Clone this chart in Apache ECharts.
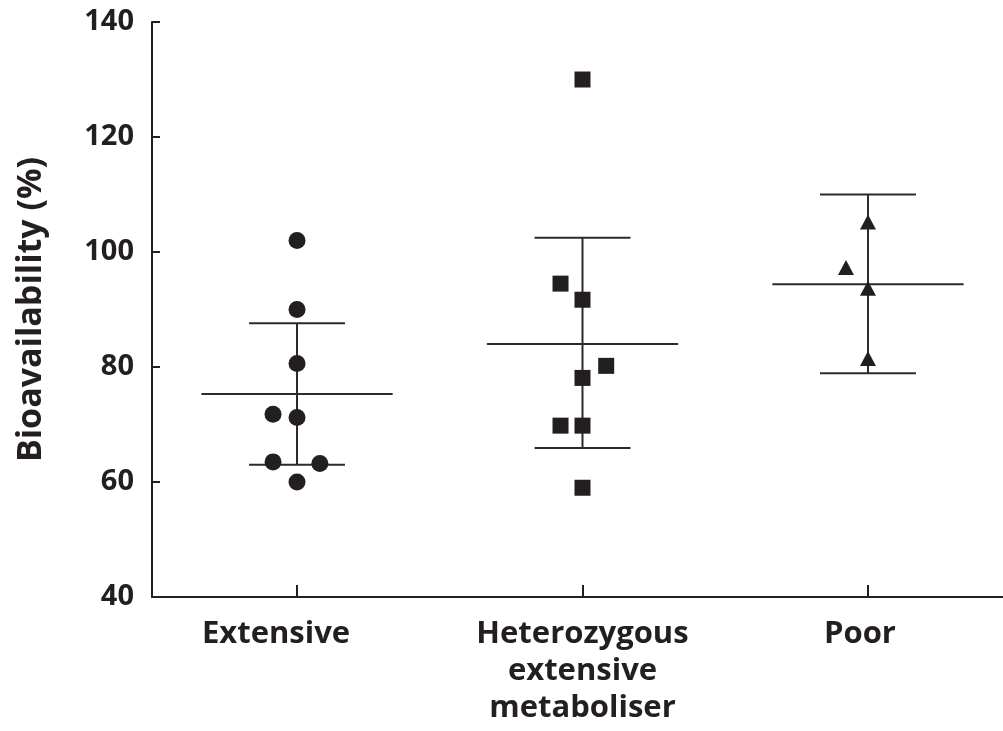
<!DOCTYPE html>
<html>
<head>
<meta charset="utf-8">
<script src="https://cdn.jsdelivr.net/npm/echarts@6/dist/echarts.min.js"></script>
<style>html,body{margin:0;padding:0;background:#fff}#c{width:1003px;height:731px}</style>
</head>
<body>
<div id="c"></div>
<script>
// Category names and their positions on the x axis
var categories = ['Extensive', 'Heterozygous\nextensive\nmetaboliser', 'Poor'];
var categoryPos = [1, 2, 3];
var yTicks = [40, 60, 80, 100, 120, 140];

// Individual observations: [x position (category index + jitter), bioavailability %]
var extensiveX = [1, 1, 1, 0.916, 1, 0.916, 1.08, 1];
var extensiveY = [102, 90, 80.6, 71.8, 71.2, 63.5, 63.2, 60];
var heteroX = [2, 1.923, 2, 2.083, 2, 1.923, 2, 2];
var heteroY = [130, 94.5, 91.7, 80.2, 78.1, 69.8, 69.8, 59];
var poorX = [3, 2.923, 3, 3];
var poorY = [105.2, 97.3, 93.7, 81.5];

// Summary lines: mean and error-bar limits per group
var groupMean = [75.3, 84.0, 94.4];
var groupUpper = [87.6, 102.5, 110.0];
var groupLower = [63.0, 65.9, 78.9];

function zip(xs, ys) { return xs.map(function (x, i) { return [x, ys[i]]; }); }

var ink = '#231f20';
var fontFam = '"Open Sans", Lato, sans-serif';

var summaryData = categoryPos.map(function (p, i) {
  return [p, groupMean[i], groupUpper[i], groupLower[i]];
});

var labelRich = {
  first: { color: ink, fontFamily: fontFam, fontWeight: 'bold', fontSize: 31, lineHeight: 37, padding: [0, 42, 0, 0] },
  third: { color: ink, fontFamily: fontFam, fontWeight: 'bold', fontSize: 31, lineHeight: 37, padding: [0, 16, 0, 0] }
};

var chart = echarts.init(document.getElementById('c'), null, { renderer: 'canvas' });
chart.setOption({
  animation: false,
  backgroundColor: '#fff',
  grid: { left: 152, right: 0, top: 22, bottom: 134, containLabel: false },
  xAxis: {
    type: 'value',
    min: 0.492,
    max: 3.473,
    axisLine: { show: true, lineStyle: { color: ink, width: 2 } },
    axisTick: { show: true, inside: true, length: 12, lineStyle: { color: ink, width: 2 }, customValues: categoryPos },
    axisLabel: {
      show: true,
      customValues: categoryPos,
      formatter: function (v) {
        var i = Math.round(v) - 1;
        if (i === 0) return '{first|' + categories[0] + '}';
        if (i === 2) return '{third|' + categories[2] + '}';
        return categories[i];
      },
      rich: labelRich,
      color: ink,
      fontFamily: fontFam,
      fontWeight: 'bold',
      fontSize: 31,
      lineHeight: 37,
      margin: 19,
      align: 'center'
    },
    splitLine: { show: false }
  },
  yAxis: {
    type: 'value',
    min: yTicks[0],
    max: yTicks[yTicks.length - 1],
    interval: 20,
    name: 'Bioavailability (%)',
    nameLocation: 'middle',
    nameRotate: 90,
    nameGap: 104,
    nameTextStyle: { color: ink, fontFamily: fontFam, fontWeight: 'bold', fontSize: 34 },
    axisLine: { show: true, lineStyle: { color: ink, width: 2 } },
    axisTick: { show: true, inside: true, length: 8, lineStyle: { color: ink, width: 2 } },
    axisLabel: { color: ink, fontFamily: fontFam, fontWeight: 'bold', fontSize: 29, margin: 18 },
    splitLine: { show: false }
  },
  series: [
    {
      type: 'custom',
      z: 1,
      data: summaryData,
      renderItem: function (params, api) {
        var x = api.value(0), m = api.value(1), u = api.value(2), l = api.value(3);
        var capHalf = 0.168, meanHalf = 0.335;
        var top = api.coord([x, u]), bot = api.coord([x, l]);
        var ml = api.coord([x - meanHalf, m]), mr = api.coord([x + meanHalf, m]);
        var cl = api.coord([x - capHalf, u]), cr = api.coord([x + capHalf, u]);
        var dl = api.coord([x - capHalf, l]), dr = api.coord([x + capHalf, l]);
        var st = { stroke: '#2b2b2b', lineWidth: 2 };
        return {
          type: 'group',
          children: [
            { type: 'line', shape: { x1: top[0], y1: top[1], x2: bot[0], y2: bot[1] }, style: st },
            { type: 'line', shape: { x1: cl[0], y1: cl[1], x2: cr[0], y2: cr[1] }, style: st },
            { type: 'line', shape: { x1: dl[0], y1: dl[1], x2: dr[0], y2: dr[1] }, style: st },
            { type: 'line', shape: { x1: ml[0], y1: ml[1], x2: mr[0], y2: mr[1] }, style: st }
          ]
        };
      }
    },
    { type: 'scatter', z: 3, symbol: 'circle', symbolSize: 17, itemStyle: { color: ink, opacity: 1 }, data: zip(extensiveX, extensiveY) },
    { type: 'scatter', z: 3, symbol: 'rect', symbolSize: 16, itemStyle: { color: ink, opacity: 1 }, data: zip(heteroX, heteroY) },
    { type: 'scatter', z: 3, symbol: 'triangle', symbolSize: [16, 15], itemStyle: { color: ink, opacity: 1 }, data: zip(poorX, poorY) }
  ]
});
</script>
</body>
</html>
